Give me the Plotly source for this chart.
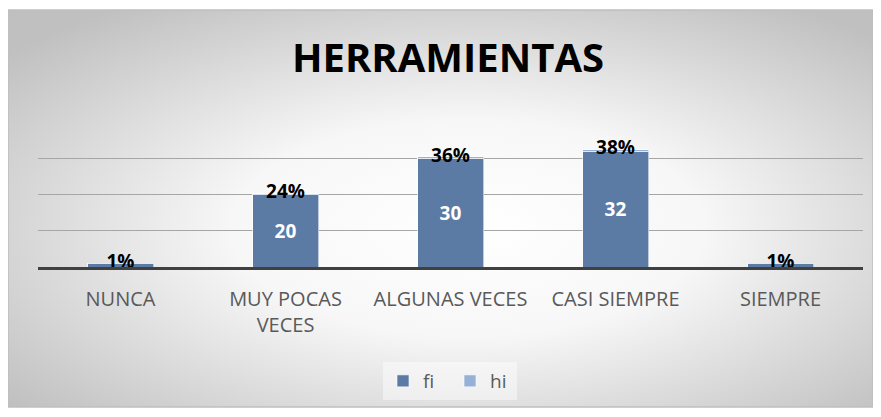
import base64
import plotly.graph_objects as go

categories = ["NUNCA", "MUY POCAS<br>VECES", "ALGUNAS VECES", "CASI SIEMPRE", "SIEMPRE"]
fi = [1, 20, 30, 32, 1]
hi = [0.01, 0.24, 0.36, 0.38, 0.01]
title = "HERRAMIENTAS"

# page is rendered with an 8px body margin -> figure coordinates = page - 8
W, H = 873, 409
L, R, T, B = 30, 18, 114, 150
pw, ph = W - L - R, H - T - B

FONT = "Open Sans, sans-serif"

svg = """<svg xmlns='http://www.w3.org/2000/svg' width='865' height='397' preserveAspectRatio='none'>
<defs><radialGradient id='g' cx='52%' cy='55%' r='68%' fx='54%' fy='55%'>
<stop offset='0' stop-color='#ffffff'/><stop offset='0.4' stop-color='#f7f7f7'/>
<stop offset='1' stop-color='#c0c0c0'/></radialGradient></defs>
<rect width='865' height='397' fill='url(#g)'/></svg>"""
src = "data:image/svg+xml;base64," + base64.b64encode(svg.encode()).decode()

x0p = (0 - L) / pw
x1p = (865 - L) / pw
y1p = (T + ph - 2) / ph
y0p = (T + ph - 399) / ph

fig = go.Figure()
fig.add_bar(
    x=categories, y=fi, name="fi",
    marker=dict(color="#5b7ba5", line=dict(color="rgba(255,255,255,0.6)", width=1)),
    text=[str(v) if v >= 5 else "" for v in fi],
    textposition="inside", insidetextanchor="middle",
    textfont=dict(color="white", size=19, family=FONT),
    texttemplate="<b>%{text}</b>", hoverinfo="skip",
)
fig.add_bar(
    x=categories, y=hi, name="hi",
    marker=dict(color="#95b1d8", line=dict(color="rgba(255,255,255,0.6)", width=1)),
    hoverinfo="skip",
)
fig.add_scatter(
    x=categories, y=[a + b for a, b in zip(fi, hi)], mode="text",
    text=["<b>%d%%</b>" % round(v * 100) for v in hi],
    textposition="middle center",
    textfont=dict(color="black", size=19, family=FONT),
    showlegend=False, hoverinfo="skip",
)

fig.update_layout(
    width=W, height=H,
    margin=dict(l=L, r=R, t=T, b=B, pad=0),
    paper_bgcolor="white", plot_bgcolor="rgba(0,0,0,0)",
    barmode="stack", bargap=0.6,
    title=dict(text="<b>" + title + "</b>", x=(448 - 8) / W, xanchor="center",
               y=1 - 49.5 / H, yanchor="middle",
               font=dict(family=FONT, size=40, color="black")),
    font=dict(family=FONT),
    xaxis=dict(showgrid=False, showline=True, linecolor="#404040", linewidth=3,
               tickfont=dict(size=20, color="#595959"), ticks="", ticklabelstandoff=12),
    yaxis=dict(range=[0, 40], dtick=10, showgrid=True, gridcolor="#a6a6a6", gridwidth=1,
               showticklabels=False, zeroline=False, showline=False),
    legend=dict(orientation="h", x=(450 - 8 - L) / pw, xanchor="center",
                y=(259 - 373) / ph, yanchor="middle",
                bgcolor="rgba(255,255,255,0.45)", font=dict(size=19, color="#595959"),
                entrywidth=22, entrywidthmode="pixels", itemwidth=30, traceorder="normal"),
    showlegend=True,
    images=[dict(source=src, xref="paper", yref="paper", x=x0p, y=y1p,
                 sizex=x1p - x0p, sizey=y1p - y0p, sizing="stretch", layer="below",
                 xanchor="left", yanchor="top")],
    shapes=[dict(type="rect", xref="paper", yref="paper", x0=x0p, x1=x1p, y0=y0p, y1=y1p,
                 line=dict(color="#bfbfbf", width=1.5), layer="below")],
)

fig.write_html("out.html")
